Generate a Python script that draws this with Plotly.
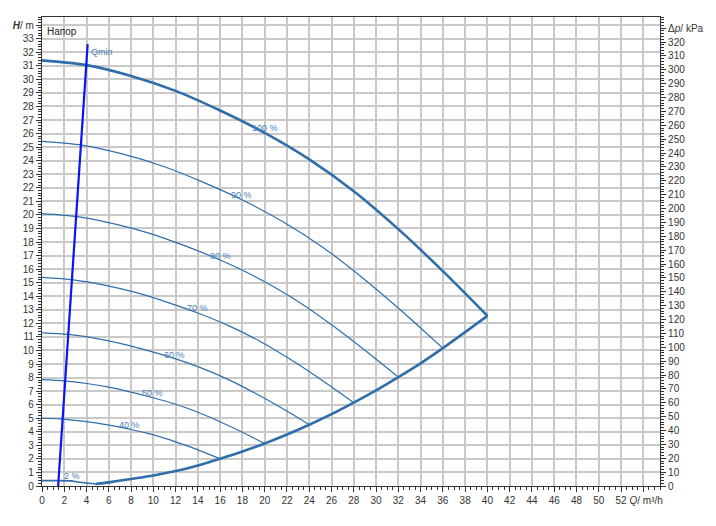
import plotly.graph_objects as go

# ---- data ----
speed_labels = ["100 %", "90 %", "80 %", "70 %", "60 %", "50 %", "40 %"]

q100 = [0, 4, 8, 12, 16, 20, 24, 28, 32, 36, 40]
h100 = [31.4, 31.05, 30.25, 29.15, 27.7, 26.05, 24.1, 21.75, 18.95, 15.85, 12.55]

q90 = [0, 3.6, 7.2, 10.8, 14.4, 18, 21.6, 25.2, 28.8, 32.4, 36]
h90 = [25.43, 25.15, 24.5, 23.61, 22.44, 21.1, 19.52, 17.62, 15.35, 12.84, 10.17]

q80 = [0, 3.2, 6.4, 9.6, 12.8, 16, 19.2, 22.4, 25.6, 28.8, 32]
h80 = [20.1, 19.87, 19.36, 18.66, 17.73, 16.67, 15.42, 13.92, 12.13, 10.14, 8.03]

q70 = [0, 2.8, 5.6, 8.4, 11.2, 14, 16.8, 19.6, 22.4, 25.2, 28]
h70 = [15.39, 15.21, 14.82, 14.28, 13.57, 12.76, 11.81, 10.66, 9.29, 7.77, 6.15]

q60 = [0, 2.4, 4.8, 7.2, 9.6, 12, 14.4, 16.8, 19.2, 21.6, 24]
h60 = [11.3, 11.18, 10.89, 10.49, 9.97, 9.38, 8.68, 7.83, 6.82, 5.71, 4.52]

q50 = [0, 2, 4, 6, 8, 10, 12, 14, 16, 18, 20]
h50 = [7.85, 7.76, 7.56, 7.29, 6.93, 6.51, 6.03, 5.44, 4.74, 3.96, 3.14]

q40 = [0, 1.6, 3.2, 4.8, 6.4, 8, 9.6, 11.2, 12.8, 14.4, 16]
h40 = [5.0, 4.95, 4.83, 4.66, 4.43, 4.17, 3.86, 3.48, 3.03, 2.54, 2.01]

q2 = [0, 1.5, 2.6, 3.2, 4.0, 4.85]
h2 = [0.4, 0.4, 0.38, 0.3, 0.22, 0.15]

q_end = [4.85, 6, 8, 10, 12, 14, 16, 18, 20, 22, 24, 26, 28, 30, 32, 34, 36, 38, 40]
h_end = [0.15, 0.27, 0.52, 0.78, 1.1, 1.52, 2.01, 2.54, 3.14, 3.8, 4.52, 5.3, 6.15, 7.05, 8.03, 9.05, 10.17, 11.35, 12.55]

q_min = [1.45, 4.1]
h_min = [0.0, 32.6]

# label positions (Q, H)
label_q = [20.0, 17.9, 16.0, 13.95, 11.9, 9.9, 7.85]
label_h = [26.4, 21.45, 17.0, 13.1, 9.65, 6.85, 4.5]

kpa_per_m = 9.77

x_ticks = list(range(0, 56, 2))
x_text = [str(v) for v in x_ticks[:-1]] + ["&nbsp;&nbsp;<i>Q</i>/ m³/h"]
y_ticks = list(range(0, 35))
y_text = [str(v) for v in y_ticks[:-1]] + ["<b><i>H</i></b>/ m"]
y2_ticks = list(range(0, 340, 10))
y2_text = [str(v) for v in y2_ticks[:-1]] + ["Δ<i>p</i>/ kPa"]

# ---- styling ----
curve_col = "#2f6eaa"
label_col = "#4a80b8"
grid_col = "#c9c9c9"
axis_col = "#333333"
font = "Liberation Sans, Arial, sans-serif"

fig = go.Figure()

speed_q = [q100, q90, q80, q70, q60, q50, q40]
speed_h = [h100, h90, h80, h70, h60, h50, h40]
for i, (qq, hh) in enumerate(zip(speed_q, speed_h)):
    fig.add_trace(go.Scatter(x=qq, y=hh, mode="lines",
                             line=dict(color=curve_col, width=2.6 if i == 0 else 1.2,
                                       shape="spline", smoothing=0.8),
                             hoverinfo="skip"))

fig.add_trace(go.Scatter(x=q2, y=h2, mode="lines",
                         line=dict(color=curve_col, width=1.6, shape="spline", smoothing=0.6),
                         hoverinfo="skip"))
fig.add_trace(go.Scatter(x=q_end, y=h_end, mode="lines",
                         line=dict(color=curve_col, width=2.6, shape="spline", smoothing=0.8),
                         hoverinfo="skip"))
fig.add_trace(go.Scatter(x=q_min, y=h_min, mode="lines",
                         line=dict(color="#0a14f5", width=2.2), hoverinfo="skip"))

# invisible trace on the pressure axis so it is drawn
fig.add_trace(go.Scatter(x=q100, y=[h * kpa_per_m for h in h100], yaxis="y2",
                         mode="lines", line=dict(color="rgba(0,0,0,0)"), hoverinfo="skip"))

# curve labels
for lbl, lq, lh in zip(speed_labels, label_q, label_h):
    fig.add_annotation(x=lq, y=lh, text=lbl, showarrow=False,
                       font=dict(family=font, size=9, color=label_col))
fig.add_annotation(x=q2[1] + 0.3, y=0.75, text="2 %", showarrow=False, xanchor="left",
                   font=dict(family=font, size=9, color=label_col))
fig.add_annotation(x=q_min[1] + 0.1, y=32.0, text="Qmin", showarrow=False, xanchor="left",
                   font=dict(family=font, size=9, color=label_col))
fig.add_annotation(x=0.005, y=0.985, xref="paper", yref="paper", text="Напор",
                   showarrow=False, xanchor="left", yanchor="top",
                   font=dict(family=font, size=10, color="#222222"))

fig.update_layout(
    width=708, height=518,
    margin=dict(l=34, r=56, t=9, b=40, autoexpand=False),
    paper_bgcolor="white", plot_bgcolor="white",
    showlegend=False,
    font=dict(family=font, size=10, color=axis_col),
    xaxis=dict(range=[0, 55.5], tickmode="array", tickvals=x_ticks, ticktext=x_text,
               tickangle=0, automargin=False,
               showgrid=True, gridcolor=grid_col, gridwidth=1.5,
               showline=True, linecolor=axis_col, linewidth=1.2, mirror=True,
               ticks="outside", ticklen=5, tickcolor=axis_col, zeroline=False,
               tickfont=dict(size=10, color=axis_col),
               minor=dict(dtick=0.5, ticks="outside", ticklen=3, tickcolor=axis_col, showgrid=False)),
    yaxis=dict(range=[0, 34.6], tickmode="array", tickvals=y_ticks, ticktext=y_text,
               automargin=False,
               showgrid=True, gridcolor=grid_col, gridwidth=1.5,
               showline=True, linecolor=axis_col, linewidth=1.2,
               ticks="outside", ticklen=5, tickcolor=axis_col, zeroline=False,
               tickfont=dict(size=10, color=axis_col),
               minor=dict(dtick=0.2, ticks="outside", ticklen=3, tickcolor=axis_col, showgrid=False)),
    yaxis2=dict(range=[0, 34.6 * kpa_per_m], overlaying="y", side="right",
                tickmode="array", tickvals=y2_ticks, ticktext=y2_text, automargin=False,
                showgrid=False, showline=True, linecolor=axis_col, linewidth=1.2,
                ticks="outside", ticklen=5, tickcolor=axis_col, zeroline=False,
                tickfont=dict(size=10, color=axis_col),
                minor=dict(dtick=2, ticks="outside", ticklen=3, tickcolor=axis_col, showgrid=False)),
)

fig.write_html("out.html")
